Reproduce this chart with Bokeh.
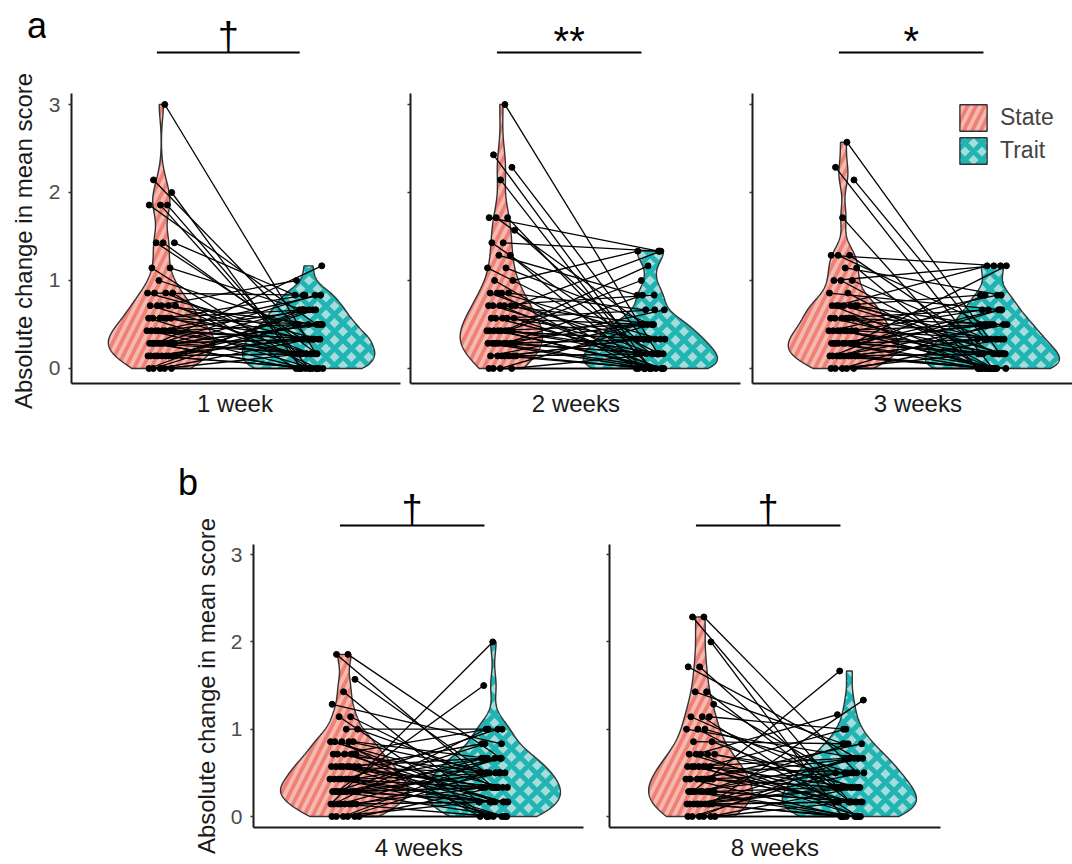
import numpy as np
from bokeh.plotting import figure
from bokeh.layouts import row, column
from bokeh.models import Range1d, FixedTicker, Legend, LegendItem, Div
from bokeh.embed import file_html
from bokeh.resources import INLINE
from bokeh.core.properties import value

FONT = "Liberation Sans"

# ---------------- data ----------------
PERIODS = ["1 week", "2 weeks", "3 weeks", "4 weeks", "8 weeks"]
SIGNIF = ["\u2020", "**", "*", "\u2020", "\u2020"]
GROUPS = ["State", "Trait"]
PANEL_TAGS = ["a", "b"]
Y_LABEL = "Absolute change in mean score"
STATE_DENOM = 7   # state scores move in steps of 1/7
TRAIT_DENOM = 6   # trait scores move in steps of 1/6

# paired per participant (numerators of the absolute change)
state_1w = [21, 15, 14, 13, 13, 13, 10, 10, 10, 8, 8, 7, 6, 6, 6, 6, 5, 5, 5, 5, 5,
            4, 4, 4, 4, 4, 4, 3, 3, 3, 3, 3, 3, 3, 3, 2, 2, 2, 2, 2, 2, 2, 2, 2, 2, 2,
            1, 1, 1, 1, 1, 1, 1, 1, 1, 0, 0, 0, 0, 0]
trait_1w = [1, 2, 0, 1, 3, 0, 2, 5, 1, 0, 4, 3, 2, 1, 5, 0, 3, 1, 2, 6, 0,
            2, 4, 1, 3, 0, 5, 1, 2, 4, 0, 3, 5, 2, 1, 0, 3, 2, 1, 4, 7, 1, 2, 0, 3, 5,
            2, 1, 0, 4, 3, 1, 2, 0, 4, 1, 3, 0, 2, 4]

state_2w = [21, 17, 16, 15, 12, 12, 12, 11, 10, 10, 9, 9, 8, 8, 7, 7, 6, 6, 6, 6,
            5, 5, 5, 5, 5, 5, 4, 4, 4, 4, 4, 3, 3, 3, 3, 3, 3, 3, 3, 3,
            2, 2, 2, 2, 2, 2, 2, 2, 2, 1, 1, 1, 1, 1, 1, 1, 0, 0, 0, 0]
trait_2w = [1, 0, 2, 1, 8, 0, 3, 2, 8, 1, 0, 5, 1, 3, 0, 8, 2, 1, 4, 0,
            8, 3, 1, 2, 0, 5, 2, 1, 0, 4, 3, 1, 0, 2, 7, 3, 1, 0, 2, 6,
            0, 1, 2, 3, 4, 1, 0, 5, 2, 1, 0, 3, 2, 1, 0, 2, 0, 1, 3, 0]

state_3w = [18, 16, 15, 12, 9, 9, 9, 8, 8, 7, 7, 7, 6, 6, 5, 5, 5, 5, 5, 5, 5,
            4, 4, 4, 4, 4, 4, 3, 3, 3, 3, 3, 3, 3, 3, 2, 2, 2, 2, 2, 2, 2, 2, 2, 2,
            1, 1, 1, 1, 1, 1, 1, 1, 1, 1, 0, 0, 0, 0, 0]
trait_3w = [1, 0, 2, 0, 7, 1, 3, 0, 5, 7, 2, 1, 4, 0, 7, 3, 1, 0, 2, 5, 1,
            2, 4, 0, 3, 1, 0, 1, 2, 0, 3, 4, 1, 5, 0, 0, 1, 2, 3, 1, 0, 4, 2, 3, 7,
            1, 0, 2, 3, 1, 0, 5, 2, 4, 0, 0, 1, 2, 3, 0]

state_4w = [13, 13, 11, 10, 9, 8, 8, 7, 7, 6, 6, 6, 6, 6, 5, 5, 5, 5, 5,
            4, 4, 4, 4, 4, 4, 4, 4, 3, 3, 3, 3, 3, 3, 3, 3, 2, 2, 2, 2, 2, 2, 2, 2, 2, 2, 2,
            1, 1, 1, 1, 1, 1, 1, 1, 0, 0, 0, 0, 0, 0]
trait_4w = [4, 2, 3, 1, 5, 2, 0, 3, 6, 1, 4, 0, 2, 3, 6, 2, 1, 3, 0,
            4, 1, 2, 3, 5, 0, 2, 1, 2, 3, 6, 1, 4, 0, 2, 1, 9, 1, 3, 2, 4, 0, 3, 1, 5, 2, 4,
            12, 2, 1, 3, 0, 6, 1, 4, 2, 3, 1, 0, 4, 0]

state_8w = [16, 16, 14, 12, 12, 10, 10, 9, 8, 8, 8, 7, 7, 7, 6, 6, 5, 5, 5, 5, 5,
            4, 4, 4, 4, 4, 4, 4, 3, 3, 3, 3, 3, 3, 3, 2, 2, 2, 2, 2, 2, 2, 2, 2,
            1, 1, 1, 1, 1, 1, 1, 1, 1, 1, 0, 0, 0, 0, 0, 0]
trait_8w = [3, 1, 0, 2, 4, 1, 5, 3, 0, 2, 6, 1, 4, 3, 5, 2, 0, 1, 3, 7, 2,
            2, 4, 1, 0, 3, 6, 1, 1, 3, 0, 2, 5, 4, 2, 10, 1, 0, 3, 2, 4, 1, 5, 0,
            8, 2, 1, 0, 3, 1, 4, 2, 1, 0, 1, 0, 3, 2, 4, 0]

STATE = [state_1w, state_2w, state_3w, state_4w, state_8w]
TRAIT = [trait_1w, trait_2w, trait_3w, trait_4w, trait_8w]
Y_TICKS = [0, 1, 2, 3]

# ---------------- style ----------------
STATE_FILL, STATE_HATCH = "#F6B9B2", "#EE8074"
TRAIT_FILL, TRAIT_HATCH = "#A6DCDB", "#20B4B2"
AXIS_COL = "#1A1A1A"
PX_PER_UNIT_X = 149.0
X_LO = 0.39


def kde(vals):
    v = np.asarray(vals, float)
    n = len(v)
    sd = v.std(ddof=1)
    q75, q25 = np.percentile(v, [75, 25])
    bw = 0.9 * min(sd, (q75 - q25) / 1.34) * n ** -0.2
    ys = np.linspace(v.min(), v.max(), 400)
    d = np.exp(-0.5 * ((ys[:, None] - v[None, :]) / bw) ** 2).sum(1) / (n * bw * np.sqrt(2 * np.pi))
    return ys, d


def jitter(n, mult):
    i = np.arange(1, n + 1)
    return 0.2 * ((i * mult) % 1.0 - 0.5)


def make_strip(idx, width, bl, br, height, bar_y, xr):
    """Significance bracket above a panel (frame aligned with the panel below)."""
    p = figure(width=width, height=height, x_range=xr, y_range=Range1d(0, height),
               output_backend="svg", toolbar_location=None,
               x_axis_location=None, y_axis_location=None,
               min_border_left=bl, min_border_right=br, min_border_top=0, min_border_bottom=0)
    p.xgrid.visible = False
    p.ygrid.visible = False
    p.outline_line_color = None
    p.segment(x0=[0.97], y0=[bar_y], x1=[1.94], y1=[bar_y], line_color="black", line_width=2)
    mark = SIGNIF[idx]
    if mark == "\u2020":
        p.text(x=[1.455], y=[bar_y], text=[mark], text_font=value(FONT), text_font_size="38px",
               text_align="center", text_baseline="alphabetic", y_offset=-17, text_color="black")
    else:
        p.text(x=[1.455], y=[bar_y], text=[mark], text_font=value(FONT), text_font_size="40px",
               text_align="center", text_baseline="alphabetic", y_offset=-12, text_color="black")
    return p


def make_panel(idx, width, height, bl, br, bb, y_lo, y_hi, xr, tick_labels=False):
    p = figure(width=width, height=height, x_range=xr,
               y_range=Range1d(y_lo, y_hi), output_backend="svg", toolbar_location=None,
               min_border_left=bl, min_border_right=br, min_border_top=0, min_border_bottom=bb)
    p.xgrid.visible = False
    p.ygrid.visible = False
    p.outline_line_color = None

    ya = p.yaxis[0]
    ya.ticker = FixedTicker(ticks=Y_TICKS)
    ya.axis_line_color = AXIS_COL
    ya.axis_line_width = 2
    ya.major_tick_line_color = "#333333"
    ya.major_tick_line_width = 1.5
    ya.major_tick_out = 3
    ya.major_tick_in = 0
    ya.minor_tick_line_color = None
    ya.major_label_text_font = FONT
    ya.major_label_text_font_size = "21px"
    ya.major_label_text_color = "#4D4D4D"
    ya.major_label_standoff = 8
    if not tick_labels:
        ya.major_label_overrides = {t: "" for t in Y_TICKS}
        ya.major_label_standoff = 0

    xa = p.xaxis[0]
    xa.ticker = FixedTicker(ticks=[1.5])
    xa.major_label_overrides = {1.5: PERIODS[idx]}
    xa.axis_line_color = AXIS_COL
    xa.axis_line_width = 2
    xa.major_tick_line_color = None
    xa.minor_tick_line_color = None
    xa.major_label_text_font = FONT
    xa.major_label_text_font_size = "24px"
    xa.major_label_text_color = "#1A1A1A"
    xa.major_label_standoff = 0

    s = np.array(STATE[idx], float) / STATE_DENOM
    t = np.array(TRAIT[idx], float) / TRAIT_DENOM

    ys_s, d_s = kde(s)
    ys_t, d_t = kde(t)
    dmax = max(d_s.max(), d_t.max())
    rends = []
    for ys, d, c, fill, hcol, pat, sc, wt in [(ys_s, d_s, 1.0, STATE_FILL, STATE_HATCH, "/", 17, 3.8),
                                              (ys_t, d_t, 2.0, TRAIT_FILL, TRAIT_HATCH, "x", 17, 5)]:
        hw = 0.45 * d / dmax
        xs = np.concatenate([c - hw, (c + hw)[::-1]])
        yy = np.concatenate([ys, ys[::-1]])
        r = p.patch(xs, yy, fill_color=fill, hatch_pattern=pat, hatch_color=hcol,
                    hatch_scale=sc, hatch_weight=wt, line_color="#333333", line_width=1.4)
        rends.append(r)

    js = jitter(len(s), 0.6180339887)
    jt = jitter(len(t), 0.7548776662)
    p.segment(x0=1 + js, y0=s, x1=2 + jt, y1=t, line_color="black", line_width=1.3)
    p.scatter(np.concatenate([1 + js, 2 + jt]), np.concatenate([s, t]), size=6,
              fill_color="black", line_color="black")
    return p, rends


def side_div(width, height, tag, tag_left, tag_top, label_cx, label_cy):
    html = (
        f'<div style="position:relative;width:{width}px;height:{height}px;'
        f'font-family:\'{FONT}\';overflow:visible;">'
        f'<div style="position:absolute;left:{tag_left}px;top:{tag_top}px;font-size:36px;'
        f'line-height:1;color:#000;">{tag}</div>'
        f'<div style="position:absolute;left:{label_cx}px;top:{label_cy}px;font-size:24px;'
        f'line-height:1;color:#1A1A1A;white-space:nowrap;'
        f'transform:translate(-50%,-50%) rotate(-90deg);">{Y_LABEL}</div>'
        f'</div>'
    )
    return Div(text=html, width=width, height=height, margin=0,
               styles={"overflow": "visible"})


def x_range_for(width, bl, br):
    frame_w = width - bl - br
    return Range1d(X_LO, X_LO + frame_w / PX_PER_UNIT_X)


# ---------------- row a (canvas y 0..420) ----------------
SA_H, PA_H = 93, 327
ya_lo, ya_hi = -0.1705, 3.125
A_SPECS = [(0, 358, 22, 3), (1, 340, 7, 3), (2, 329, 9, 0)]
row_a = [side_div(45, SA_H + PA_H, PANEL_TAGS[0], 27, 8, 24, 241)]
for idx, w, bl, br in A_SPECS:
    xr = x_range_for(w, bl, br)
    strip = make_strip(idx, w, bl, br, SA_H, 41, xr)
    panel, rends = make_panel(idx, w, PA_H, bl, br, 37, ya_lo, ya_hi, xr, tick_labels=(idx == 0))
    if idx == 2:
        legend = Legend(items=[LegendItem(label=GROUPS[0], renderers=[rends[0]]),
                               LegendItem(label=GROUPS[1], renderers=[rends[1]])],
                        location=(204, 216), glyph_width=34, glyph_height=33, label_height=33,
                        label_text_font=FONT, label_text_font_size="23px", label_standoff=10,
                        spacing=0, padding=0, margin=0, border_line_color=None,
                        background_fill_alpha=0)
        panel.add_layout(legend)
    row_a.append(column(strip, panel))

# ---------------- row b (canvas y 420..864) ----------------
SB_H, PB_H = 124, 320
yb_lo, yb_hi = -0.126, 3.116
B_SPECS = [(3, 374, 31, 13), (4, 354, 13, 10)]
row_b = [side_div(222, SB_H + PB_H, PANEL_TAGS[1], 178, 45, 207, 266)]
for idx, w, bl, br in B_SPECS:
    xr = x_range_for(w, bl, br)
    strip = make_strip(idx, w, bl, br, SB_H, 19, xr)
    panel, _ = make_panel(idx, w, PB_H, bl, br, 37, yb_lo, yb_hi, xr, tick_labels=(idx == 3))
    row_b.append(column(strip, panel))

page = column(row(*row_a), row(*row_b))

open("out.html", "w").write(file_html(page, INLINE))
